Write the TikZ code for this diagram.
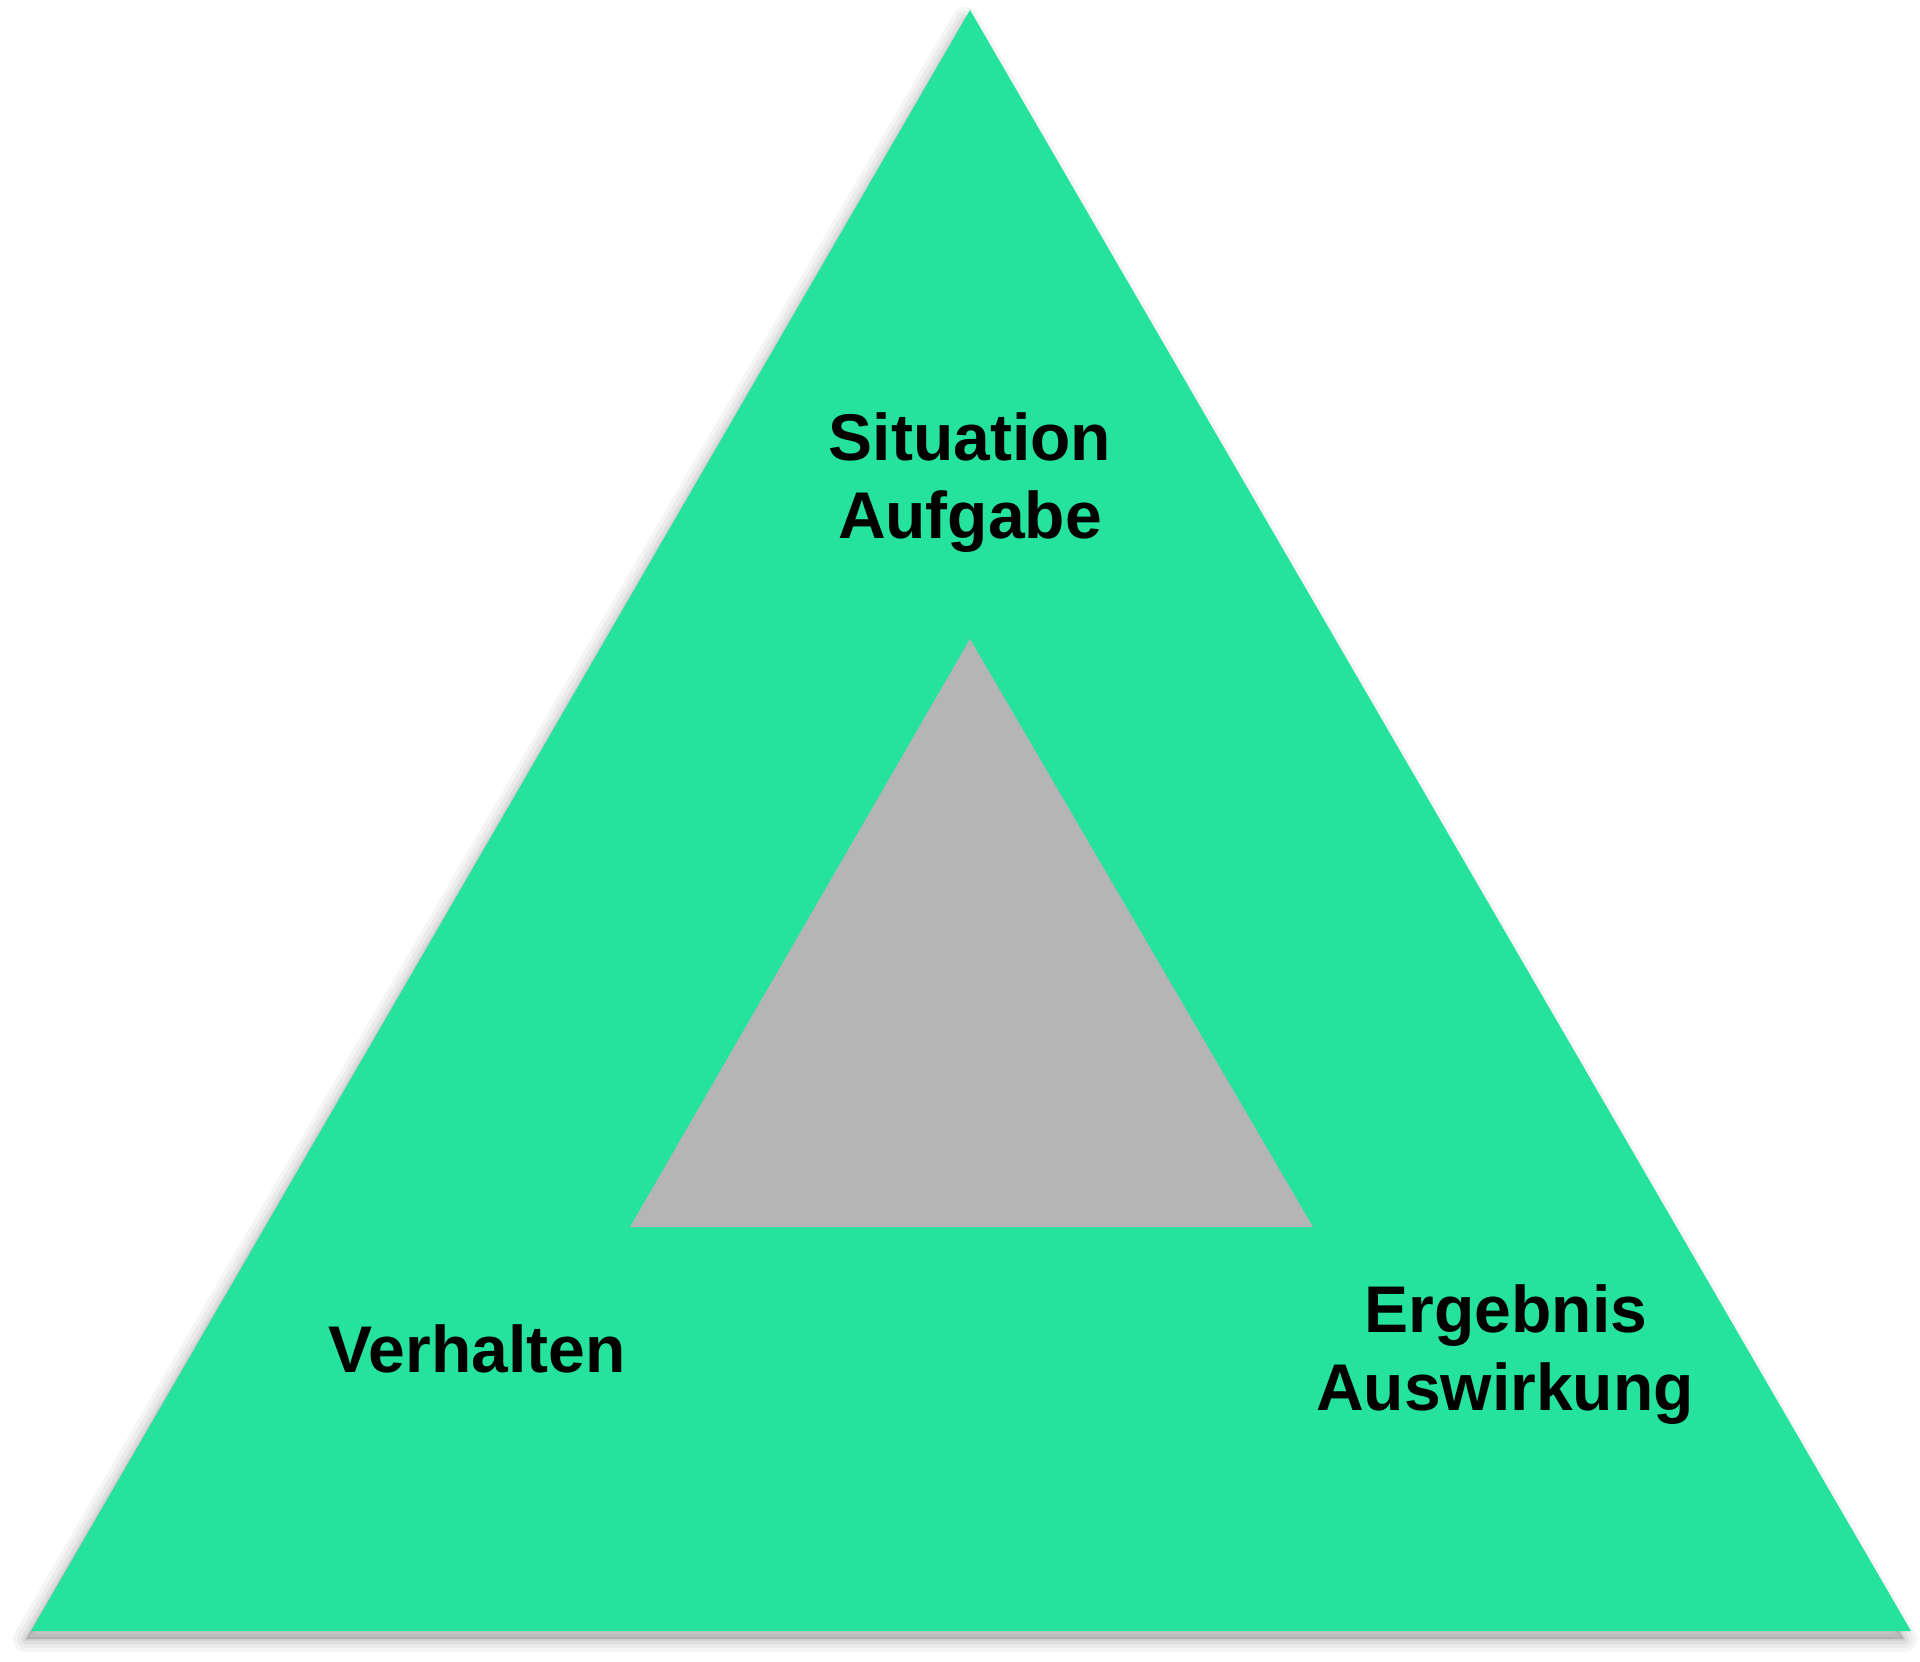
\documentclass[tikz,border=0pt]{standalone}
\usepackage{fontspec}
\setmainfont{Liberation Sans}
\definecolor{tgreen}{HTML}{25E29D}
\definecolor{tgray}{HTML}{B5B5B5}
\begin{document}
\begin{tikzpicture}[x=0.5pt,y=-0.5pt,
  lbl/.style={inner sep=0pt, anchor=base, font=\fontsize{33}{39}\selectfont\bfseries, text=black}]
\useasboundingbox (0,0) rectangle (1920,1661);
\fill[white] (0,0) rectangle (1920,1661);
% shadow
\foreach \w/\o in {26/0.05,18/0.06,10/0.07,4/0.08}{
  \filldraw[black!70, opacity=\o, line width=\w*0.5pt, line join=round]
    (965,20) -- (1904,1639) -- (26,1639) -- cycle;
}
% outer triangle
\fill[tgreen] (970,10) -- (1911,1631) -- (31,1631) -- cycle;
% inner triangle
\fill[tgray] (970,639) -- (1313,1227) -- (630,1227) -- cycle;
% labels
\node[lbl] (sit) at (970,460) {Situation};
\node[lbl] (auf) at (970,538) {Aufgabe};
\node[lbl] (ver) at (477,1372) {Verhalten};
\node[lbl] (erg) at (1506,1332) {Ergebnis};
\node[lbl] (ausw) at (1505,1410) {Auswirkung};
\end{tikzpicture}
\end{document}
